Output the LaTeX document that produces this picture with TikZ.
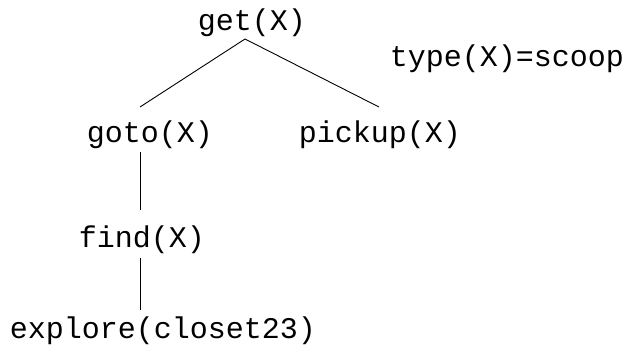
\documentclass[tikz,border=0pt]{standalone}
\usepackage{fontspec}
\setmonofont{Liberation Mono}
\begin{document}
\begin{tikzpicture}[x=1pt,y=1pt,
  goal/.style={inner sep=0pt, anchor=base, font=\ttfamily\fontsize{30}{34}\selectfont},
  edge/.style={draw=black, line width=0.9pt}]
\useasboundingbox (0,0) rectangle (629,-348);
% task tree
\node[goal] (get)     at (252,-30)  {get(X)};
\node[goal] (type)    at (507,-66)  {type(X)=scoop};
\node[goal] (goto)    at (150,-142) {goto(X)};
\node[goal] (pickup)  at (380,-142) {pickup(X)};
\node[goal] (find)    at (142,-247) {find(X)};
\node[goal] (explore) at (163,-338) {explore(closet23)};
% branches
\draw[edge] ([shift={(-7,-9)}]get.base) -- ([shift={(-10,35)}]goto.base);
\draw[edge] ([shift={(-7,-9)}]get.base) -- ([shift={(-1,35)}]pickup.base);
\draw[edge] ([shift={(-10,-10)}]goto.base) -- ([shift={(-2,37)}]find.base);
\draw[edge] ([shift={(-2,-11)}]find.base) -- ([shift={(-23,28)}]explore.base);
\end{tikzpicture}
\end{document}
